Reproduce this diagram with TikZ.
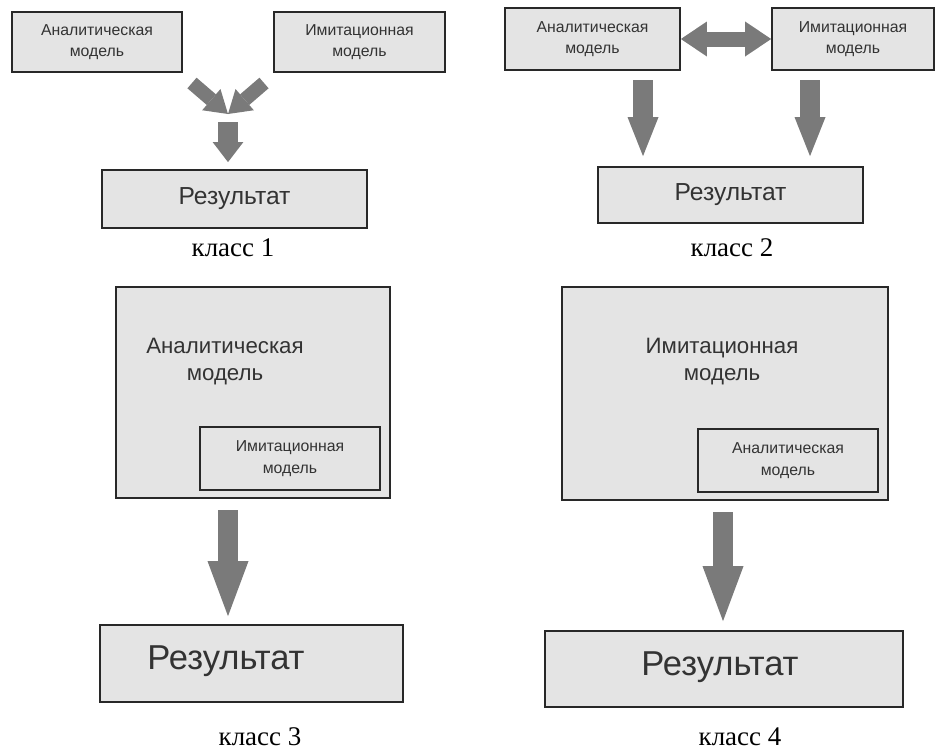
\documentclass[tikz,border=0pt]{standalone}
\usepackage{fontspec}
\setmainfont{Liberation Serif}
\setsansfont{Liberation Sans}
\usetikzlibrary{arrows.meta}
\definecolor{boxgray}{RGB}{228,228,228}
\definecolor{arrgray}{RGB}{122,122,122}
\definecolor{edgegray}{RGB}{40,40,40}

\begin{document}
\begin{tikzpicture}[x=0.03cm, y=-0.03cm,
    box/.style={rectangle, draw=edgegray, fill=boxgray, line width=1.5pt, inner sep=0pt,
                align=center, text=black!80},
    small/.style={box, font=\sffamily\fontsize{13.5}{18.5}\selectfont},
    res/.style={box, font=\sffamily\fontsize{21}{25}\selectfont},
    bigres/.style={box, font=\sffamily\fontsize{29.5}{33}\selectfont},
    bigtext/.style={align=center, text=black!80, font=\sffamily\fontsize{19}{23}\selectfont},
    restext/.style={text=black!80, font=\sffamily\fontsize{29.5}{33}\selectfont},
    cls/.style={font=\fontsize{23}{27}\selectfont},
    blk/.style={draw=arrgray, line cap=butt},
    c1diag/.style={blk, line width=0.42cm, -{Triangle[length=0.66cm, width=0.84cm, line width=0pt]}},
    c1down/.style={blk, line width=0.6cm, -{Triangle[length=0.6cm, width=0.92cm, line width=0pt]}},
    c2dbl/.style={blk, line width=0.45cm, {Triangle[length=0.78cm, width=1.05cm, line width=0pt]}-{Triangle[length=0.78cm, width=1.05cm, line width=0pt]}},
    c2down/.style={blk, line width=0.6cm, -{Triangle[length=1.17cm, width=0.93cm, line width=0pt]}},
    c34down/.style={blk, line width=0.6cm, -{Triangle[length=1.65cm, width=1.23cm, line width=0pt]}}]
    \useasboundingbox (0,0) rectangle (936,752);

    % класс 1
    \node[small, minimum width=5.1cm, minimum height=1.8cm] (an1) at (97,42) {Аналитическая\\модель};
    \node[small, minimum width=5.13cm, minimum height=1.8cm] (im1) at (359.5,42) {Имитационная\\модель};
    \node[res, minimum width=7.95cm, minimum height=1.74cm] (res1) at (234.5,199) {Результат};
    \node[cls] (cl1) at (233,248) {класс 1};
    \coordinate (m1) at (228,114);
    \coordinate (m1l) at (192,83);
    \coordinate (m1r) at (264,83);
    \coordinate (m1b) at (228,122);
    \draw[c1diag] (m1l) -- (m1); \draw[c1diag] (m1r) -- (m1);
    \draw[c1down, shorten >=0.21cm] (m1b) -- (m1b |- res1.north);

    % класс 2
    \node[small, minimum width=5.25cm, minimum height=1.86cm] (an2) at (592.5,39) {Аналитическая\\модель};
    \node[small, minimum width=4.86cm, minimum height=1.86cm] (im2) at (853,39) {Имитационная\\модель};
    \node[res, minimum width=7.95cm, minimum height=1.68cm] (res2) at (730.5,195) {Результат};
    \node[cls] (cl2) at (732,248) {класс 2};
    \coordinate (a2) at (643,80);
    \coordinate (b2) at (810,80);
    \draw[c2dbl] (an2) -- (im2);
    \draw[c2down, shorten >=0.3cm] (a2) -- (a2 |- res2.north);
    \draw[c2down, shorten >=0.3cm] (b2) -- (b2 |- res2.north);

    % класс 3
    \node[box, minimum width=8.22cm, minimum height=6.33cm] (an3) at (253,392.5) {};
    \node[bigtext] (an3t) at (225,362) {Аналитическая\\модель};
    \node[small, minimum width=5.4cm, minimum height=1.89cm] (im3) at (290,458.5) {Имитационная\\модель};
    \node[box, minimum width=9.09cm, minimum height=2.31cm] (res3) at (251.5,663.5) {};
    \node[restext] (res3t) at (226,661) {Результат};
    \node[cls] (cl3) at (260,737) {класс 3};
    \coordinate (a3) at (228,510);
    \draw[c34down, shorten >=0.24cm] (a3) -- (a3 |- res3.north);

    % класс 4
    \node[box, minimum width=9.78cm, minimum height=6.39cm] (im4) at (725,393.5) {};
    \node[bigtext] (im4t) at (722,362) {Имитационная\\модель};
    \node[small, minimum width=5.4cm, minimum height=1.89cm] (an4) at (788,460.5) {Аналитическая\\модель};
    \node[box, minimum width=10.74cm, minimum height=2.28cm] (res4) at (724,669) {};
    \node[restext] (res4t) at (720,667) {Результат};
    \node[cls] (cl4) at (740,737) {класс 4};
    \coordinate (a4) at (723,512);
    \draw[c34down, shorten >=0.27cm] (a4) -- (a4 |- res4.north);
\end{tikzpicture}
\end{document}
